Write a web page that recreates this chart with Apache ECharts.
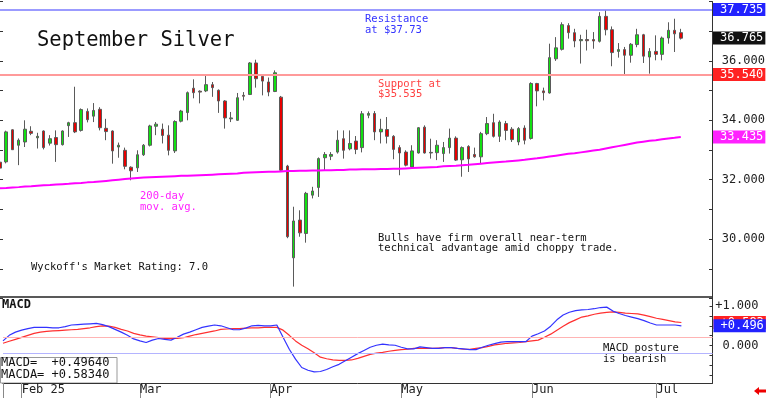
<!DOCTYPE html>
<html>
<head>
<meta charset="utf-8">
<title>September Silver</title>
<script src="https://cdn.jsdelivr.net/npm/echarts@6.0.0/dist/echarts.min.js"></script>
<style>
  html, body { margin:0; padding:0; background:#fff; }
  #chart { width:768px; height:398px; }
</style>
</head>
<body>
<div id="chart"></div>
<script>
// trading days, Jan 29 - Jul 8 2025
var dates = ['01-29','01-30','01-31',
 '02-03','02-04','02-05','02-06','02-07','02-10','02-11','02-12','02-13','02-14','02-18','02-19','02-20','02-21','02-24','02-25','02-26','02-27','02-28',
 '03-03','03-04','03-05','03-06','03-07','03-10','03-11','03-12','03-13','03-14','03-17','03-18','03-19','03-20','03-21','03-24','03-25','03-26','03-27','03-28','03-31',
 '04-01','04-02','04-03','04-04','04-07','04-08','04-09','04-10','04-11','04-14','04-15','04-16','04-17','04-21','04-22','04-23','04-24','04-25','04-28','04-29','04-30',
 '05-01','05-02','05-05','05-06','05-07','05-08','05-09','05-12','05-13','05-14','05-15','05-16','05-19','05-20','05-21','05-22','05-23','05-27','05-28','05-29','05-30',
 '06-02','06-03','06-04','06-05','06-06','06-09','06-10','06-11','06-12','06-13','06-16','06-17','06-18','06-20','06-23','06-24','06-25','06-26','06-27','06-30',
 '07-01','07-02','07-03','07-07','07-08'];
var padDays = ['p1','p2','p3','p4','p5'];

var openP = [32.59,32.60,33.68,33.16,33.27,33.63,33.41,33.64,33.23,33.42,
 33.18,33.82,33.92,33.66,34.30,34.14,34.37,33.73,33.64,33.10,
 32.99,32.42,32.40,32.84,33.16,33.80,33.70,33.50,32.97,33.97,
 34.26,35.08,34.98,34.99,35.20,35.01,34.65,34.05,34.00,34.84,
 34.87,35.93,35.48,35.29,34.97,34.78,32.46,29.37,30.64,30.19,
 31.48,31.74,32.74,32.79,32.93,33.38,33.04,33.30,33.08,34.17,
 34.23,33.61,33.69,33.46,33.08,32.93,32.43,32.90,33.77,32.90,
 32.91,32.88,33.08,33.40,32.67,33.12,32.85,32.77,33.55,33.92,
 33.46,33.89,33.70,33.27,33.74,33.39,35.24,34.99,34.92,36.07,
 36.39,37.19,36.95,36.68,36.72,36.72,36.66,37.50,37.05,36.32,
 36.38,36.19,36.55,36.88,36.13,36.32,36.22,36.77,37.03,36.95];
var highP = [32.72,33.65,33.70,33.39,34.00,33.80,33.58,33.66,33.50,33.66,
 33.66,33.95,35.13,34.40,34.40,34.58,34.44,34.05,33.66,33.25,
 33.08,32.45,32.99,33.20,33.85,33.94,33.89,33.83,34.00,34.35,
 34.97,35.38,35.01,35.55,35.29,35.04,34.68,34.28,34.92,34.95,
 35.96,36.04,35.51,35.44,35.68,34.82,32.50,31.09,30.97,31.59,
 31.76,32.75,32.93,32.93,33.66,33.66,33.66,33.47,34.31,34.30,
 34.31,34.05,34.11,33.50,33.16,32.99,33.16,33.77,33.83,33.38,
 33.33,33.27,33.72,33.46,33.12,33.16,33.08,33.61,34.11,34.22,
 34.00,33.98,33.77,33.77,33.83,35.28,35.26,35.10,36.58,36.80,
 37.30,37.27,37.08,36.88,37.05,36.97,37.64,37.70,37.16,36.60,
 36.47,36.60,37.08,36.91,36.43,36.86,36.82,37.30,37.42,37.08];
var lowP = [32.32,32.55,33.00,32.49,33.10,33.50,33.05,33.02,33.15,32.60,
 33.15,33.44,33.57,33.62,33.93,33.94,33.66,33.33,32.54,32.74,
 32.35,31.98,32.26,32.80,33.12,33.50,33.22,32.82,32.90,33.93,
 34.00,34.74,34.57,34.95,34.79,34.25,33.72,33.94,33.98,34.67,
 34.85,35.10,34.84,34.81,34.95,32.30,30.03,28.40,30.08,29.88,
 31.37,31.42,32.32,32.66,32.88,32.71,32.99,32.86,32.92,34.07,
 33.33,33.22,33.22,32.69,32.15,32.45,32.38,32.88,32.88,32.71,
 32.66,32.60,32.88,32.63,32.10,32.26,32.74,32.54,33.50,33.42,
 33.27,33.33,33.27,33.16,33.19,33.35,34.47,34.67,34.90,36.00,
 36.35,36.75,36.46,35.91,36.35,36.41,36.62,36.86,35.82,36.11,
 35.55,35.94,36.46,35.93,35.57,36.02,36.02,36.58,36.30,36.72];
var closeP = [32.39,33.61,33.01,33.33,33.70,33.56,33.46,33.08,33.38,33.18,
 33.64,33.92,33.61,34.36,34.02,34.33,33.75,33.62,32.97,33.16,
 32.45,32.30,32.84,33.16,33.81,33.87,33.49,32.99,33.96,34.31,
 34.93,34.93,34.95,35.20,35.10,34.65,34.08,34.08,34.76,34.81,
 35.93,35.40,35.32,34.95,35.60,32.32,30.08,30.61,30.21,31.54,
 31.62,32.71,32.85,32.85,33.33,32.99,33.22,33.02,34.22,34.23,
 33.61,33.70,33.46,33.02,32.90,32.49,32.97,33.75,32.90,32.92,
 33.16,33.08,33.40,32.66,33.08,32.70,32.77,33.55,33.89,33.46,
 33.94,33.66,33.35,33.72,33.33,35.24,34.99,34.93,36.11,36.44,
 37.22,36.95,36.67,36.72,36.68,36.67,37.50,37.05,36.28,36.38,
 36.19,36.56,36.88,36.16,36.32,36.22,36.77,37.03,36.91,36.765];

var ma200 = [31.71,31.72,31.74,31.75,31.77,31.78,31.80,31.81,31.82,31.84,
 31.85,31.86,31.88,31.89,31.91,31.92,31.94,31.96,31.98,32.00,
 32.02,32.04,32.06,32.07,32.08,32.09,32.10,32.11,32.12,32.13,
 32.13,32.14,32.15,32.16,32.17,32.18,32.19,32.20,32.21,32.23,
 32.24,32.25,32.26,32.27,32.27,32.28,32.29,32.29,32.30,32.30,
 32.31,32.31,32.32,32.32,32.33,32.33,32.34,32.34,32.35,32.35,
 32.35,32.36,32.36,32.37,32.37,32.38,32.39,32.40,32.41,32.42,
 32.43,32.45,32.46,32.47,32.49,32.50,32.52,32.54,32.56,32.58,
 32.60,32.61,32.63,32.65,32.67,32.70,32.72,32.75,32.78,32.81,
 32.84,32.87,32.89,32.92,32.95,32.98,33.01,33.05,33.09,33.13,
 33.17,33.21,33.25,33.28,33.31,33.33,33.36,33.39,33.41,33.435];

var macd = [0.12,0.26,0.34,0.39,0.43,0.46,0.46,0.46,0.45,0.45,
 0.48,0.52,0.53,0.54,0.55,0.56,0.53,0.48,0.41,0.34,
 0.26,0.17,0.12,0.08,0.14,0.18,0.16,0.14,0.21,0.29,
 0.34,0.40,0.46,0.49,0.52,0.50,0.45,0.40,0.40,0.44,
 0.50,0.51,0.50,0.50,0.52,0.21,-0.09,-0.34,-0.55,-0.62,
 -0.66,-0.65,-0.60,-0.53,-0.47,-0.38,-0.29,-0.20,-0.12,-0.04,
 0.01,0.04,0.02,0.01,-0.04,-0.08,-0.08,-0.03,-0.05,-0.07,
 -0.07,-0.05,-0.05,-0.07,-0.08,-0.10,-0.10,-0.04,0.01,0.05,
 0.09,0.10,0.10,0.10,0.10,0.24,0.30,0.37,0.49,0.65,
 0.77,0.84,0.88,0.90,0.91,0.93,0.96,0.97,0.87,0.81,
 0.76,0.72,0.68,0.63,0.57,0.52,0.52,0.52,0.52,0.4964];
var macdAvg = [0.06,0.11,0.16,0.21,0.26,0.31,0.34,0.36,0.37,0.38,
 0.39,0.40,0.41,0.43,0.45,0.48,0.50,0.49,0.46,0.41,
 0.37,0.31,0.27,0.24,0.22,0.20,0.18,0.18,0.18,0.20,
 0.24,0.28,0.31,0.34,0.37,0.41,0.42,0.43,0.43,0.44,
 0.45,0.45,0.46,0.46,0.46,0.39,0.26,0.12,0.01,-0.08,
 -0.18,-0.29,-0.33,-0.36,-0.37,-0.37,-0.36,-0.32,-0.27,-0.22,
 -0.19,-0.17,-0.14,-0.12,-0.10,-0.09,-0.07,-0.07,-0.07,-0.07,
 -0.06,-0.05,-0.05,-0.07,-0.09,-0.09,-0.07,-0.05,-0.02,0.02,
 0.04,0.06,0.07,0.08,0.10,0.12,0.14,0.21,0.29,0.39,
 0.49,0.58,0.65,0.72,0.75,0.79,0.82,0.84,0.85,0.84,
 0.82,0.81,0.80,0.77,0.73,0.69,0.66,0.63,0.60,0.5834];

var priceLabels = [30, 32, 34, 36];
var macdLabels = [0, 1];
var macdTicks = [-0.75, -0.5, -0.25, 0, 0.25, 0.5, 0.75, 1];
var monthLabels = {'01':'', '02':'Feb 25', '03':'Mar', '04':'Apr', '05':'May', '06':'Jun', '07':'Jul'};
var resistance = 37.735, support = 35.54, lastPrice = 36.765, lastMa = 33.435;
var macdLast = 0.4964, macdAvgLast = 0.5834;

var MONO = '"DejaVu Sans Mono", monospace';
var cats = dates.concat(padDays);

var candles = [];
for (var i = 0; i < dates.length; i++) {
  candles.push([openP[i], closeP[i], lowP[i], highP[i]]);
}

function isMonthStart(idx) {
  if (idx >= dates.length) return false;
  if (idx === 0) return true;
  return dates[idx].slice(0, 2) !== dates[idx - 1].slice(0, 2);
}

function boxLabel(text, bg) {
  return {
    show: true, position: 'end', distance: 1, formatter: text,
    color: '#fff', backgroundColor: bg, fontFamily: MONO, fontSize: 12,
    padding: [1, 2, 0, 7], lineHeight: 12
  };
}
var hidden = { color: 'rgba(0,0,0,0)', width: 0 };

function txt(s, x, y, color, size, weight) {
  return {
    type: 'text', x: x, y: y, silent: true,
    style: { text: s, fill: color, font: (weight || 'normal') + ' ' + size + 'px ' + MONO, verticalAlign: 'middle' }
  };
}

var chart = echarts.init(document.getElementById('chart'));
chart.setOption({
  animation: false,
  backgroundColor: '#fff',
  grid: [
    { left: 0, right: 55.5, top: 1.5, height: 297 },
    { left: 0, right: 55.5, top: 297, height: 86 }
  ],
  xAxis: [
    { type: 'category', gridIndex: 0, data: cats, boundaryGap: false,
      axisLine: { show: false }, axisTick: { show: false }, axisLabel: { show: false }, splitLine: { show: false } },
    { type: 'category', gridIndex: 1, data: cats, boundaryGap: false,
      axisLine: { show: true, onZero: false, lineStyle: { color: '#333', width: 1 } },
      axisTick: { show: true, length: 15, lineStyle: { color: '#888' }, interval: function (idx) { return isMonthStart(idx); } },
      axisLabel: { show: true, interval: function (idx) { return isMonthStart(idx); },
        formatter: function (v) { return monthLabels[v.slice(0, 2)] || ''; },
        align: 'left', padding: [0, 0, 0, 0], margin: 1, color: '#222', fontFamily: MONO, fontSize: 12 },
      splitLine: { show: false } }
  ],
  yAxis: [
    { type: 'value', gridIndex: 0, position: 'right', min: 28, max: 38, interval: 1,
      axisLine: { show: true, lineStyle: { color: '#333' } },
      axisTick: { show: true, inside: true, length: 3, lineStyle: { color: '#333' } },
      axisLabel: { show: true, customValues: priceLabels, formatter: function (v) { return v.toFixed(3); },
        align: 'right', margin: 53, color: '#222', fontFamily: MONO, fontSize: 12 },
      splitLine: { show: false } },
    { type: 'value', gridIndex: 0, position: 'left', min: 28, max: 38, interval: 1,
      axisLine: { show: false },
      axisTick: { show: true, inside: true, length: 3, lineStyle: { color: '#333' } },
      axisLabel: { show: false }, splitLine: { show: false } },
    { type: 'value', gridIndex: 1, position: 'right', min: -0.94, max: 1.225,
      axisLine: { show: true, lineStyle: { color: '#333' } },
      axisTick: { show: true, inside: true, length: 3, customValues: macdTicks, lineStyle: { color: '#333' } },
      axisLabel: { show: true, customValues: macdLabels,
        formatter: function (v) { return (v > 0 ? '+' : '') + v.toFixed(3); },
        align: 'right', margin: 46, color: '#222', fontFamily: MONO, fontSize: 12 },
      splitLine: { show: false } }
  ],
  series: [
    { name: 'Silver', type: 'candlestick', xAxisIndex: 0, yAxisIndex: 0, data: candles, barWidth: 3,
      itemStyle: { color: '#12e012', color0: '#e80000', borderColor: '#5a5a5a', borderColor0: '#5a5a5a', borderWidth: 1 },
      markLine: { symbol: ['none', 'none'], silent: true, animation: false,
        data: [
          { yAxis: resistance, lineStyle: { color: '#7a7aff', width: 1.5, type: 'solid' }, label: boxLabel('37.735', '#2222ff') },
          { yAxis: support, lineStyle: { color: '#ff9a9a', width: 2, type: 'solid' }, label: boxLabel('35.540', '#ff2222') },
          { yAxis: lastPrice, lineStyle: hidden, label: boxLabel('36.765', '#111') }
        ] } },
    { name: '200-day', type: 'line', xAxisIndex: 0, yAxisIndex: 0, data: ma200, symbol: 'none',
      lineStyle: { color: '#ff00ff', width: 2 },
      markLine: { symbol: ['none', 'none'], silent: true, animation: false,
        data: [ { yAxis: lastMa, lineStyle: hidden, label: boxLabel('33.435', '#ff22ff') } ] } },
    { name: 'MACDA', type: 'line', xAxisIndex: 1, yAxisIndex: 2, data: macdAvg, symbol: 'none',
      lineStyle: { color: '#ff3030', width: 1.2 },
      markLine: { symbol: ['none', 'none'], silent: true, animation: false,
        data: [
          { yAxis: 0.2, lineStyle: { color: '#ffb4b4', width: 1, type: 'solid' }, label: { show: false } },
          { yAxis: -0.2, lineStyle: { color: '#b4b4ff', width: 1, type: 'solid' }, label: { show: false } },
          { yAxis: macdAvgLast, lineStyle: hidden, label: boxLabel('+0.583', '#ff2222') }
        ] } },
    { name: 'MACD', type: 'line', xAxisIndex: 1, yAxisIndex: 2, data: macd, symbol: 'none',
      lineStyle: { color: '#3333ff', width: 1.2 },
      markLine: { symbol: ['none', 'none'], silent: true, animation: false,
        data: [ { yAxis: macdLast, lineStyle: hidden, label: boxLabel('+0.496', '#2222ff') } ] } }
  ],
  graphic: [
    { type: 'line', silent: true, shape: { x1: 0, y1: 297, x2: 713, y2: 297 }, style: { stroke: '#222', lineWidth: 1.5 } },
    { type: 'rect', silent: true, shape: { x: 0.5, y: 357.5, width: 116.5, height: 25.5 }, style: { fill: '#fff', stroke: '#999', lineWidth: 1 } },
    txt('September Silver', 37, 41, '#111', 20.5),
    txt('Resistance', 365, 19.5, '#3333ff', 10.5),
    txt('at $37.73', 365, 30.5, '#3333ff', 10.5),
    txt('Support at', 378, 84, '#ff4040', 10.5),
    txt('$35.535', 378, 94.5, '#ff4040', 10.5),
    txt('200-day', 140, 196, '#ff22ff', 10.5),
    txt('mov. avg.', 140, 207, '#ff22ff', 10.5),
    txt('Bulls have firm overall near-term', 378, 238, '#111', 10.5),
    txt('technical advantage amid choppy trade.', 378, 248.5, '#111', 10.5),
    txt("Wyckoff's Market Rating: 7.0", 31, 267.5, '#111', 10.5),
    txt('MACD', 2, 305, '#111', 12, 'bold'),
    txt('MACD posture', 603, 348.5, '#111', 10.5),
    txt('is bearish', 603, 359, '#111', 10.5),
    txt('MACD=  +0.49640', 1, 363, '#111', 12),
    txt('MACDA= +0.58340', 1, 374.5, '#111', 12),
    { type: 'polygon', silent: true,
      shape: { points: [[754, 391], [759, 387], [759, 389.5], [766, 389.5], [766, 392.5], [759, 392.5], [759, 395]] },
      style: { fill: '#ee0000' } }
  ]
});
</script>
</body>
</html>
